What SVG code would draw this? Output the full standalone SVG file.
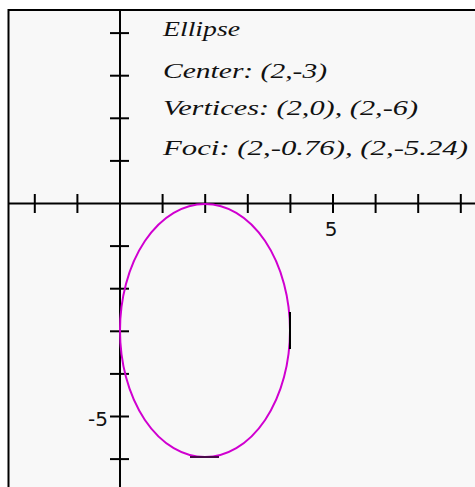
<svg xmlns="http://www.w3.org/2000/svg" width="475" height="487" viewBox="0 0 475 487">
<style>
.ax{stroke:#000;stroke-width:2;fill:none}
.tk{stroke:#000;stroke-width:2}
.lbl{font-family:"Liberation Serif",serif;font-style:italic;font-size:22px;fill:#111}
.num{font-family:"DejaVu Sans","Liberation Sans",sans-serif;font-size:20px;fill:#111}
</style>
<rect width="475" height="487" fill="#fff"/>
<rect x="8" y="10" width="467" height="477" fill="#f8f8f8"/>
<g id="frame">
<path class="ax" d="M8.5,487 V10 H475"/>
</g>
<g id="axes">
<line class="ax" x1="8" y1="203.5" x2="475" y2="203.5"/>
<line class="ax" x1="120" y1="10" x2="120" y2="487"/>
<g class="tk">
<line x1="34.8" y1="194" x2="34.8" y2="213"/>
<line x1="77.4" y1="194" x2="77.4" y2="213"/>
<line x1="162.6" y1="194" x2="162.6" y2="213"/>
<line x1="205.2" y1="194" x2="205.2" y2="213"/>
<line x1="247.8" y1="194" x2="247.8" y2="213"/>
<line x1="290.4" y1="194" x2="290.4" y2="213"/>
<line x1="333" y1="194" x2="333" y2="213"/>
<line x1="375.6" y1="194" x2="375.6" y2="213"/>
<line x1="418.2" y1="194" x2="418.2" y2="213"/>
<line x1="460.8" y1="194" x2="460.8" y2="213"/>
<line x1="110" y1="33.1" x2="129" y2="33.1"/>
<line x1="110" y1="75.7" x2="129" y2="75.7"/>
<line x1="110" y1="118.3" x2="129" y2="118.3"/>
<line x1="110" y1="160.9" x2="129" y2="160.9"/>
<line x1="110" y1="246.1" x2="129" y2="246.1"/>
<line x1="110" y1="288.7" x2="129" y2="288.7"/>
<line x1="110" y1="331.3" x2="129" y2="331.3"/>
<line x1="110" y1="373.9" x2="129" y2="373.9"/>
<line x1="110" y1="416.5" x2="129" y2="416.5"/>
<line x1="110" y1="459.1" x2="129" y2="459.1"/>
</g>
<text class="num" x="331" y="236" text-anchor="middle">5</text>
<text class="num" x="108" y="426" text-anchor="end">-5</text>
</g>
<g id="ellipse">
<ellipse cx="205" cy="330.5" rx="85" ry="126.5" fill="none" stroke="#d000d0" stroke-width="2"/>
<line x1="290" y1="312" x2="290" y2="349" stroke="#000" stroke-width="2"/>
<line x1="190" y1="457" x2="219" y2="457" stroke="#4a0a4a" stroke-width="2"/>
</g>
<g id="labels">
<text class="lbl" x="163" y="36" textLength="77" lengthAdjust="spacingAndGlyphs">Ellipse</text>
<text class="lbl" x="163" y="78" textLength="164" lengthAdjust="spacingAndGlyphs">Center: (2,-3)</text>
<text class="lbl" x="163" y="115" textLength="255" lengthAdjust="spacingAndGlyphs">Vertices: (2,0), (2,-6)</text>
<text class="lbl" x="163" y="155" textLength="305" lengthAdjust="spacingAndGlyphs">Foci: (2,-0.76), (2,-5.24)</text>
</g>
</svg>
